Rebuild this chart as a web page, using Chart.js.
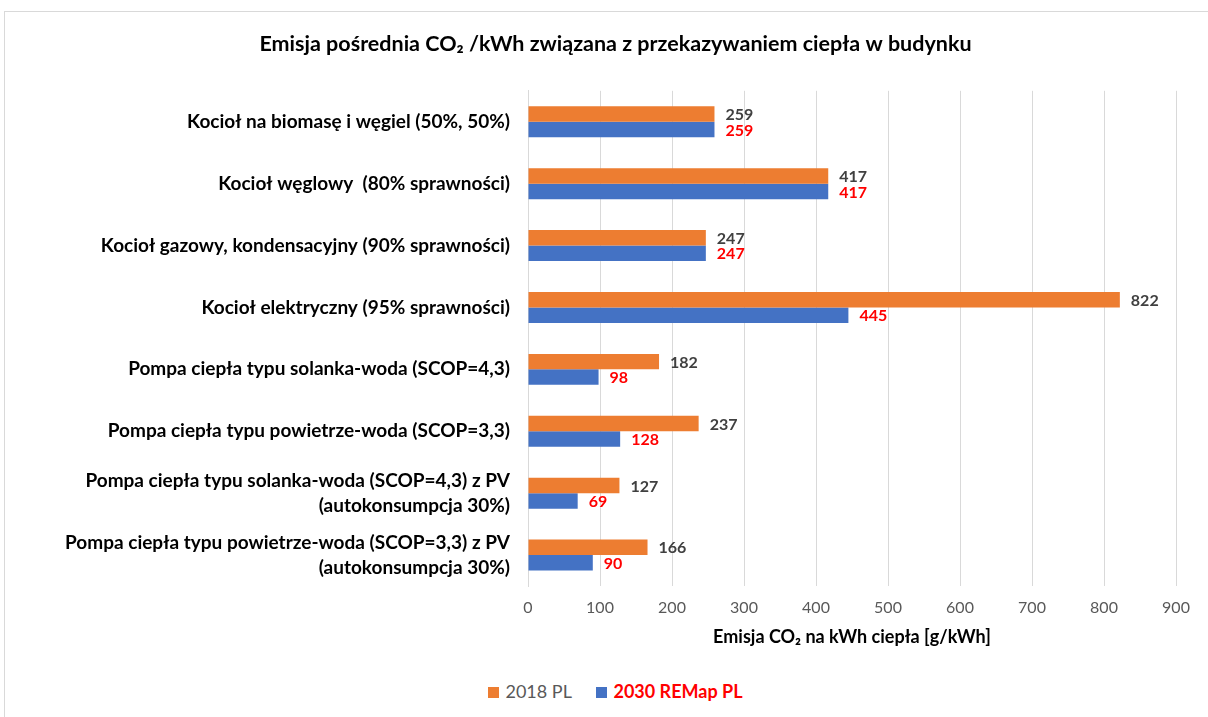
<!DOCTYPE html>
<html>
<head>
<meta charset="utf-8">
<script src="https://cdn.jsdelivr.net/npm/chart.js@4.4.0/dist/chart.umd.min.js"></script>
<style>
  body { margin: 0; background: #fff; font-family: Lato, 'Open Sans', sans-serif; }
  #frame {
    position: absolute; left: 4px; top: 11px; width: 1220px; height: 720px;
    border: 1px solid #d9d9d9; box-sizing: border-box;
  }
  #wrap { position: absolute; left: 0; top: 0; width: 1203px; height: 660px; }
  #legend {
    position: absolute; left: 9px; top: 667px; width: 1203px; text-align: center;
    font-size: 18px; line-height: 24px;
  }
  .item { display: inline-block; margin: 0 10px; }
  .sw { display: inline-block; width: 11px; height: 11px; margin-right: 6px; }
</style>
</head>
<body>
<div id="frame">
  <div id="wrap"><canvas id="chart"></canvas></div>
  <div id="legend">
    <span class="item"><span class="sw" style="background:#ED7D31"></span><span style="color:#595959">2018 PL</span></span>
    <span class="item"><span class="sw" style="background:#4472C4"></span><span style="color:#FF0000;font-weight:bold">2030 REMap PL</span></span>
  </div>
</div>
<script>
// categories (top to bottom)
const categories = [
    'Kocioł na biomasę i węgiel (50%, 50%)',
    'Kocioł węglowy  (80% sprawności)',
    'Kocioł gazowy, kondensacyjny (90% sprawności)',
    'Kocioł elektryczny (95% sprawności)',
    'Pompa ciepła typu solanka-woda (SCOP=4,3)',
    'Pompa ciepła typu powietrze-woda (SCOP=3,3)',
    ['Pompa ciepła typu solanka-woda (SCOP=4,3) z PV', '(autokonsumpcja 30%)'],
    ['Pompa ciepła typu powietrze-woda (SCOP=3,3) z PV', '(autokonsumpcja 30%)']
];
const values2018 = [259, 417, 247, 822, 182, 237, 127, 166];
const values2030 = [259, 417, 247, 445, 98, 128, 69, 90];
const xTicks = [0, 100, 200, 300, 400, 500, 600, 700, 800, 900];

const FONT = "Lato, 'Open Sans', sans-serif";
const labelColors = ['#404040', '#FF0000'];

// draws the value at the end of every bar
const barValues = {
    id: 'barValues',
    afterDatasetsDraw(chart) {
        const ctx = chart.ctx;
        ctx.save();
        ctx.font = 'bold 16px ' + FONT;
        ctx.textAlign = 'left';
        ctx.textBaseline = 'middle';
        chart.data.datasets.forEach((ds, i) => {
            const meta = chart.getDatasetMeta(i);
            ctx.fillStyle = labelColors[i];
            meta.data.forEach((bar, j) => {
                ctx.fillText(ds.data[j], bar.x + 11, bar.y + 1);
            });
        });
        ctx.restore();
    }
};

new Chart(document.getElementById('chart'), {
    type: 'bar',
    data: {
        labels: categories,
        datasets: [
            { label: '2018 PL', data: values2018, backgroundColor: '#ED7D31' },
            { label: '2030 REMap PL', data: values2030, backgroundColor: '#4472C4' }
        ]
    },
    options: {
        indexAxis: 'y',
        responsive: true,
        maintainAspectRatio: false,
        animation: false,
        categoryPercentage: 0.5,
        barPercentage: 1.0,
        layout: { padding: { left: 50, right: 32, top: 0, bottom: 24 } },
        plugins: {
            legend: { display: false },
            tooltip: { enabled: false },
            title: {
                display: true,
                text: 'Emisja pośrednia CO₂ /kWh związana z przekazywaniem ciepła w budynku',
                color: '#000',
                font: { family: FONT, size: 21.5, weight: 'bold' },
                padding: { top: 19, bottom: 34 }
            }
        },
        scales: {
            x: {
                min: 0,
                max: 900,
                afterBuildTicks(scale) { scale.ticks = xTicks.map(v => ({ value: v })); },
                afterFit(scale) { scale.height = 62; },
                grid: { color: '#d9d9d9', drawTicks: false },
                border: { display: false },
                ticks: { color: '#595959', padding: 12, font: { family: FONT, size: 16 } },
                title: {
                    display: true,
                    text: 'Emisja CO₂ na kWh ciepła [g/kWh]',
                    color: '#000',
                    font: { family: FONT, size: 18, weight: 'bold' },
                    padding: { top: 4, bottom: 0 }
                }
            },
            y: {
                afterFit(scale) { scale.width = 473; },
                grid: { display: false, drawTicks: false },
                border: { display: true, color: '#d9d9d9' },
                ticks: {
                    color: '#000',
                    padding: 18,
                    font: { family: FONT, size: 19, weight: 'bold', lineHeight: 1.3 }
                }
            }
        }
    },
    plugins: [barValues]
});
</script>
</body>
</html>
